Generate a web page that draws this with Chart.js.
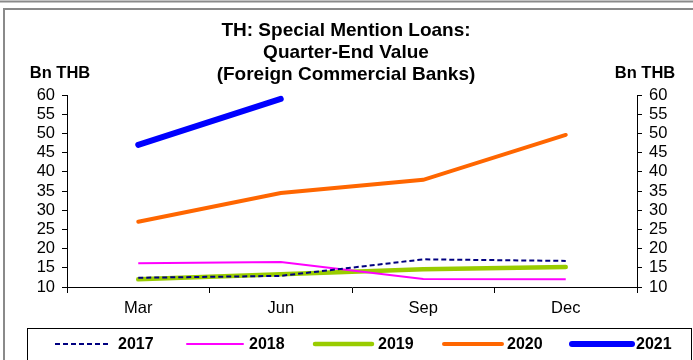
<!DOCTYPE html>
<html><head><meta charset="utf-8">
<script src="https://cdn.jsdelivr.net/npm/chart.js@4"></script>
<style>html,body{margin:0;padding:0;background:#fff;}#wrap{position:relative;width:693px;height:360px;}canvas{display:block;}</style>
</head><body><div id="wrap"><canvas id="c" width="693" height="360"></canvas></div>
<script>
const categories = ['Mar', 'Jun', 'Sep', 'Dec'];
const s2017 = [12.4, 12.9, 17.2, 16.8];
const s2018 = [16.2, 16.5, 12.1, 12.0];
const s2019 = [12.0, 13.3, 14.6, 15.2];
const s2020 = [27.0, 34.5, 37.9, 49.6];
const s2021 = [47.0, 59.0, null, null];
const seriesNames = ['2017', '2018', '2019', '2020', '2021'];
const yTicks = [10, 15, 20, 25, 30, 35, 40, 45, 50, 55, 60];
const titleLines = ['TH: Special Mention Loans:', 'Quarter-End Value', '(Foreign Commercial Banks)'];
const unitLabel = 'Bn THB';

const FONT = '"Liberation Sans", Arial, sans-serif';

const frame = {
  id: 'frame',
  beforeDraw(chart) {
    const ctx = chart.ctx;
    ctx.save();
    ctx.strokeStyle = '#8a8a8a';
    ctx.lineWidth = 2;
    ctx.beginPath(); ctx.moveTo(0, 1.5); ctx.lineTo(693, 1.5); ctx.stroke();
    ctx.strokeRect(4, 9, 700, 360);
    ctx.restore();
  },
  afterDraw(chart) {
    const ctx = chart.ctx;
    ctx.save();
    ctx.fillStyle = '#000';
    ctx.font = 'bold 19px ' + FONT;
    ctx.textAlign = 'center'; ctx.textBaseline = 'middle';
    titleLines.forEach((t, i) => ctx.fillText(t, 346, 31 + i * 22));
    ctx.font = 'bold 16.5px ' + FONT;
    ctx.fillText(unitLabel, 60, 73);
    ctx.fillText(unitLabel, 645, 73);
    // legend box
    ctx.strokeStyle = '#000'; ctx.lineWidth = 1;
    ctx.strokeRect(27.5, 328.5, 664, 40);
    const xs = [[55, 108, 118], [187, 243, 249], [315, 372, 378], [444, 502, 507], [572, 632, 636]];
    const yc = 344;
    chart.data.datasets.forEach((ds, i) => {
      const [a, b, tx] = xs[i];
      ctx.save();
      ctx.strokeStyle = ds.borderColor;
      ctx.lineWidth = ds.borderWidth;
      ctx.lineCap = ds.borderDash && ds.borderDash.length ? 'butt' : 'round';
      ctx.setLineDash(ds.borderDash || []);
      ctx.beginPath(); ctx.moveTo(a, yc); ctx.lineTo(b, yc); ctx.stroke();
      ctx.restore();
      ctx.font = 'bold 16px ' + FONT;
      ctx.textAlign = 'left'; ctx.textBaseline = 'middle';
      ctx.fillStyle = '#000';
      ctx.fillText(ds.label, tx, yc + 1);
    });
    ctx.restore();
  }
};

const yCommon = {
  min: 10, max: 60,
  afterBuildTicks(scale) { scale.ticks = yTicks.map(v => ({ value: v })); },
  grid: { drawOnChartArea: false, drawTicks: true, tickLength: 5, color: '#000', tickColor: '#000' },
  border: { display: true, color: '#000', width: 1 },
  ticks: { color: '#000', font: { family: FONT, size: 16.5 }, padding: 7, autoSkip: false }
};

new Chart(document.getElementById('c'), {
  type: 'line',
  data: {
    labels: categories,
    datasets: [
      { label: seriesNames[0], data: s2017, borderColor: '#000080', borderWidth: 2, borderDash: [5, 3], pointRadius: 0, tension: 0 },
      { label: seriesNames[1], data: s2018, borderColor: '#ff00ff', borderWidth: 2, pointRadius: 0, tension: 0 },
      { label: seriesNames[2], data: s2019, borderColor: '#99cc00', borderWidth: 4.5, pointRadius: 0, tension: 0, borderCapStyle: 'round' },
      { label: seriesNames[3], data: s2020, borderColor: '#ff6600', borderWidth: 4, pointRadius: 0, tension: 0, borderCapStyle: 'round' },
      { label: seriesNames[4], data: s2021, borderColor: '#0000ff', borderWidth: 6, pointRadius: 0, tension: 0, borderCapStyle: 'round' }
    ]
  },
  options: {
    responsive: false, animation: false, devicePixelRatio: 1,
    layout: { padding: { top: 95, bottom: 0, left: 0, right: 0 } },
    plugins: { legend: { display: false }, title: { display: false }, tooltip: { enabled: false } },
    scales: {
      x: {
        offset: true,
        grid: { offset: true, drawOnChartArea: false, tickLength: 6, color: '#000' },
        border: { display: true, color: '#000', width: 1 },
        ticks: { color: '#000', font: { family: FONT, size: 16.5 }, padding: 6, maxRotation: 0 },
        afterFit(scale) { scale.height = 73; }
      },
      y: Object.assign({}, yCommon, { position: 'left', afterFit(scale) { scale.width = 67; } }),
      y2: Object.assign({}, yCommon, { position: 'right', afterFit(scale) { scale.width = 56; } })
    }
  },
  plugins: [frame]
});
</script></body></html>
